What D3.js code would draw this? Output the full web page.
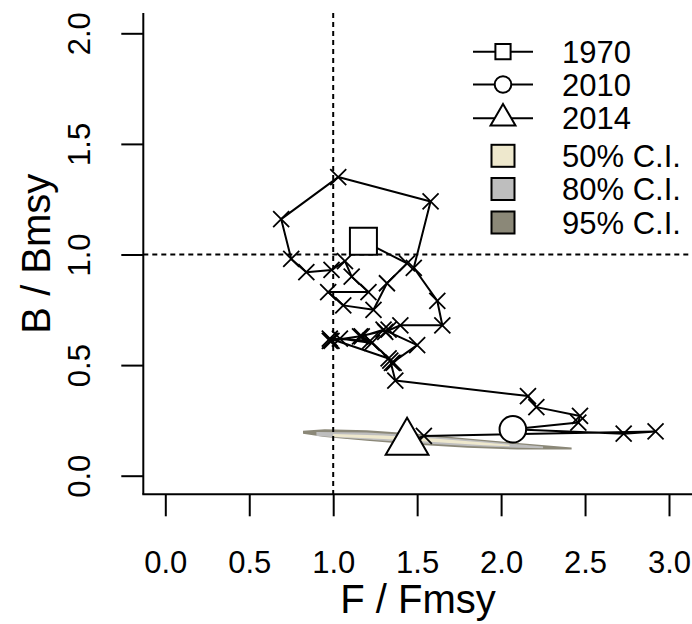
<!DOCTYPE html>
<html>
<head>
<meta charset="utf-8">
<script src="https://cdn.jsdelivr.net/npm/d3@7"></script>
<style>
  html, body { margin: 0; padding: 0; background: #fff; }
  svg { display: block; }
  text { font-family: "Liberation Sans", Arial, Helvetica, sans-serif; fill: #000; }
</style>
</head>
<body>
<svg id="chart" width="692" height="624"></svg>
<script>
// Stock trajectory, 1970-2014: fishing mortality and biomass relative to MSY levels
const firstYear = 1970;
const fRatio = [1.18, 1.44, 1.32, 1.24, 1.06, 0.97, 1.21, 1.11, 1.07, 0.99,
                0.84, 0.75, 0.69, 1.03, 1.58, 1.48, 1.62, 1.65, 1.40, 1.31,
                1.33, 1.16, 0.98, 0.99, 1.04, 1.23, 1.17, 1.30, 1.50, 1.35,
                1.33, 0.98, 1.22, 1.36, 1.34, 1.37, 2.16, 2.21, 2.47, 2.46,
                2.07, 2.73, 2.92, 1.54, 1.44];
const bRatio = [1.06, 0.96, 0.87, 0.75, 0.77, 0.83, 0.83, 0.90, 0.97, 0.93,
                0.92, 0.98, 1.16, 1.35, 1.24, 0.94, 0.79, 0.68, 0.68, 0.65,
                0.66, 0.63, 0.61, 0.61, 0.62, 0.60, 0.63, 0.66, 0.59, 0.51,
                0.53, 0.62, 0.61, 0.51, 0.52, 0.43, 0.36, 0.31, 0.27, 0.24,
                0.21, 0.19, 0.20, 0.18, 0.15];

// Highlighted years and their symbols
const markerYears = [1970, 2010, 2014];
const markerShapes = ["square", "circle", "triangle"];

// Confidence regions of the final-year estimate, [F/Fmsy, B/Bmsy] outlines
const ci95 = [[0.82, 0.203], [0.95, 0.210], [1.20, 0.205], [1.50, 0.190], [1.80, 0.168], [2.10, 0.148], [2.42, 0.128],
              [2.42, 0.118], [2.10, 0.118], [1.80, 0.126], [1.50, 0.140], [1.20, 0.158], [0.95, 0.175], [0.82, 0.190]];
const ci80 = [[0.90, 0.198], [1.20, 0.195], [1.50, 0.182], [1.80, 0.162], [2.10, 0.142], [2.25, 0.132],
              [2.25, 0.124], [2.10, 0.126], [1.80, 0.134], [1.50, 0.148], [1.20, 0.164], [0.90, 0.180]];
const ci50 = [[1.00, 0.188], [1.30, 0.182], [1.60, 0.168], [1.90, 0.150], [2.05, 0.140],
              [2.05, 0.133], [1.90, 0.138], [1.60, 0.152], [1.30, 0.166], [1.00, 0.176]];
const ciLabels = ["50% C.I.", "80% C.I.", "95% C.I."];
const ciColors = ["#EEE8CD", "#BEBEBE", "#8B8878"];

// Axes
const xTicks = [0, 0.5, 1, 1.5, 2, 2.5, 3];
const yTicks = [0, 0.5, 1, 1.5, 2];
const xTitle = "F / Fmsy";
const yTitle = "B / Bmsy";
const refF = 1, refB = 1;

const svg = d3.select("#chart");
const plot = { left: 143.3, right: 692, top: 13, bottom: 494.3 };

const x = d3.scaleLinear().domain([0, 3]).range([165.3, 669]);
const y = d3.scaleLinear().domain([0, 2]).range([475.7, 33.3]);
const fmt = d3.format(".1f");

svg.append("defs").append("clipPath").attr("id", "plotclip")
  .append("rect")
  .attr("x", plot.left).attr("y", plot.top)
  .attr("width", plot.right - plot.left).attr("height", plot.bottom - plot.top);

const g = svg.append("g").attr("clip-path", "url(#plotclip)");

// Confidence regions, widest first
const poly = d3.line().x(d => x(d[0])).y(d => y(d[1])).curve(d3.curveLinearClosed);
[[ci95, ciColors[2]], [ci80, ciColors[1]], [ci50, ciColors[0]]].forEach(([pts, col]) => {
  g.append("path").attr("d", poly(pts)).attr("fill", col).attr("stroke", "none");
});

// Reference lines at F = Fmsy and B = Bmsy
g.append("line")
  .attr("x1", x(refF)).attr("x2", x(refF))
  .attr("y1", plot.top).attr("y2", plot.bottom)
  .attr("stroke", "#000").attr("stroke-width", 2).attr("stroke-dasharray", "5,4");
g.append("line")
  .attr("x1", plot.left).attr("x2", plot.right)
  .attr("y1", y(refB)).attr("y2", y(refB))
  .attr("stroke", "#000").attr("stroke-width", 2).attr("stroke-dasharray", "5,4");

// Trajectory
const traj = fRatio.map((f, i) => ({ year: firstYear + i, f: f, b: bRatio[i] }));
g.append("path")
  .attr("d", d3.line().x(d => x(d.f)).y(d => y(d.b))(traj))
  .attr("fill", "none").attr("stroke", "#000").attr("stroke-width", 2)
  .attr("stroke-linejoin", "round");

// Yearly points drawn as crosses
const arm = 8;
g.selectAll("path.cross").data(traj).join("path")
  .attr("class", "cross")
  .attr("d", d => {
    const cx = x(d.f), cy = y(d.b);
    return `M${cx - arm},${cy - arm}L${cx + arm},${cy + arm}M${cx - arm},${cy + arm}L${cx + arm},${cy - arm}`;
  })
  .attr("stroke", "#000").attr("stroke-width", 1.8).attr("fill", "none");

// Open symbols (square / circle / triangle)
function symbolPath(shape, cx, cy, s) {
  if (shape === "square") {
    return `M${cx - s},${cy - s}H${cx + s}V${cy + s}H${cx - s}Z`;
  }
  if (shape === "circle") {
    return `M${cx - s},${cy}A${s},${s} 0 1,0 ${cx + s},${cy}A${s},${s} 0 1,0 ${cx - s},${cy}Z`;
  }
  const hw = s * Math.sqrt(3) / 2;
  return `M${cx},${cy - s}L${cx + hw},${cy + s / 2}L${cx - hw},${cy + s / 2}Z`;
}
const plotSize = { square: 13.5, circle: 13.3, triangle: 24.7 };
markerYears.forEach((yr, k) => {
  const d = traj[yr - firstYear];
  const shape = markerShapes[k];
  g.append("path")
    .attr("d", symbolPath(shape, x(d.f), y(d.b), plotSize[shape]))
    .attr("fill", "#fff").attr("stroke", "#000").attr("stroke-width", 2);
});

// Axis frame (left and bottom)
svg.append("line").attr("x1", plot.left).attr("x2", plot.left)
  .attr("y1", plot.top).attr("y2", plot.bottom)
  .attr("stroke", "#000").attr("stroke-width", 2);
svg.append("line").attr("x1", plot.left - 1).attr("x2", plot.right)
  .attr("y1", plot.bottom).attr("y2", plot.bottom)
  .attr("stroke", "#000").attr("stroke-width", 2);

// Bottom axis
const xAxis = d3.axisBottom(x).tickValues(xTicks).tickFormat(fmt).tickSize(22).tickPadding(0);
const gx = svg.append("g").attr("transform", `translate(0,${plot.bottom})`).call(xAxis);
gx.select(".domain").remove();
gx.selectAll(".tick line").attr("stroke", "#000").attr("stroke-width", 2);
gx.selectAll(".tick text")
  .attr("y", 573 - plot.bottom).attr("dy", null)
  .style("font-size", "31px").attr("fill", "#000");

// Left axis, labels rotated parallel to the axis
const yAxis = d3.axisLeft(y).tickValues(yTicks).tickFormat(fmt).tickSize(22).tickPadding(0);
const gy = svg.append("g").attr("transform", `translate(${plot.left},0)`).call(yAxis);
gy.select(".domain").remove();
gy.selectAll(".tick line").attr("stroke", "#000").attr("stroke-width", 2);
gy.selectAll(".tick text")
  .attr("x", null).attr("dy", null)
  .attr("text-anchor", "middle")
  .attr("transform", `translate(${90 - plot.left},0) rotate(-90)`)
  .style("font-size", "31px").attr("fill", "#000");

// Axis titles
svg.append("text").attr("x", 418).attr("y", 613)
  .attr("text-anchor", "middle").style("font-size", "40px").text(xTitle);
svg.append("text").attr("transform", `translate(50,${(plot.top + plot.bottom) / 2}) rotate(-90)`)
  .attr("text-anchor", "middle").style("font-size", "40px").text(yTitle);

// Legend
const legend = svg.append("g");
const legRows = [51.7, 84.5, 118.3, 155.8, 189, 222.5];
const legSize = { square: 7.6, circle: 8.3, triangle: 14.4 };
const legX = 503, legText = 562;
markerYears.forEach((yr, k) => {
  const ly = legRows[k];
  const shape = markerShapes[k];
  legend.append("line").attr("x1", 473).attr("x2", 533).attr("y1", ly).attr("y2", ly)
    .attr("stroke", "#000").attr("stroke-width", 2);
  legend.append("path").attr("d", symbolPath(shape, legX, ly, legSize[shape]))
    .attr("fill", "#fff").attr("stroke", "#000").attr("stroke-width", 2);
  legend.append("text").attr("x", legText).attr("y", ly).attr("dy", "0.36em")
    .style("font-size", "31px").text(String(yr));
});
ciLabels.forEach((lab, k) => {
  const ly = legRows[3 + k];
  legend.append("rect").attr("x", legX - 11.5).attr("y", ly - 11)
    .attr("width", 23).attr("height", 22)
    .attr("fill", ciColors[k]).attr("stroke", "#000").attr("stroke-width", 2);
  legend.append("text").attr("x", legText).attr("y", ly).attr("dy", "0.36em")
    .style("font-size", "31px").text(lab);
});
</script>
</body>
</html>
